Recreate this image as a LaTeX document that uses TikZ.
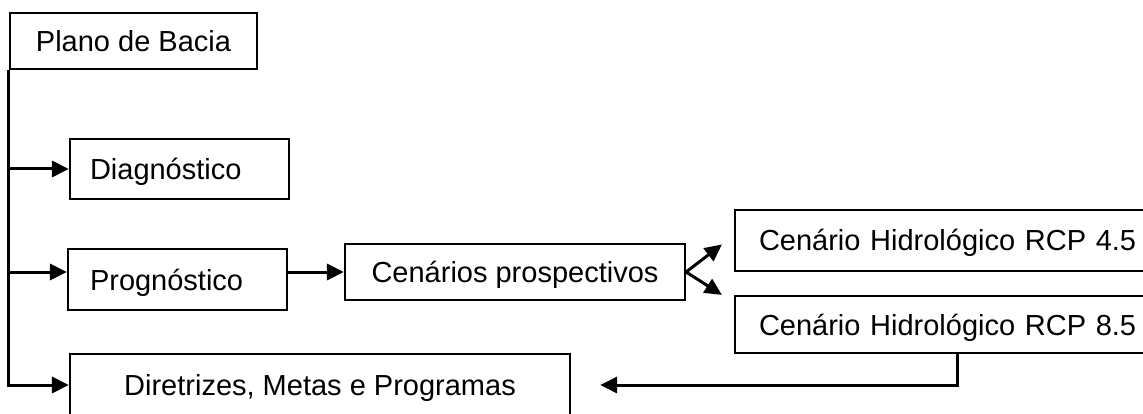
\documentclass[tikz,border=0pt]{standalone}
\usepackage{fontspec}
\setmainfont{Liberation Sans}
\usetikzlibrary{arrows.meta}
\tikzset{
  caixa/.style={draw, line width=2.2pt, inner sep=0pt,
    font=\fontsize{29}{34}\selectfont, text height=26pt, text depth=5pt},
  caixaesq/.style={caixa, align=left},
  seta/.style={line width=3pt, -{Triangle[length=17pt,width=16pt]}},
}

\begin{document}
\begin{tikzpicture}[x=1pt,y=-1pt]
  \useasboundingbox (0,0) rectangle (1143,414);
  \clip (0,0) rectangle (1143,414);

  \node[caixa, minimum width=247pt, minimum height=56pt] (plano) at (133.5,41) {Plano de Bacia};
  \node[caixaesq, text width=179pt, inner xsep=20pt, minimum height=60pt] (diag) at (179.5,169) {Diagnóstico};
  \node[caixaesq, text width=175pt, inner xsep=22pt, minimum height=61pt] (prog) at (177.5,279.5) {Prognóstico};
  \node[caixa, minimum width=340pt, minimum height=56pt] (cenarios) at (515,272) {Cenários prospectivos};
  \node[caixaesq, text width=392pt, inner xsep=24pt, minimum height=61pt] (rcpquatro) at (955,240.5) {Cenário Hidrológico RCP 4.5};
  \node[caixaesq, text width=392pt, inner xsep=24pt, minimum height=57pt] (rcpoito) at (955,324.5) {Cenário Hidrológico RCP 8.5};
  \node[caixa, minimum width=500pt, minimum height=62pt] (diretrizes) at (320,385) {Diretrizes, Metas e Programas};

  % tronco do plano
  \draw[seta] (plano.south west) |- (diag.west);
  \draw[seta] (plano.south west) |- (prog.west |- cenarios.west);
  \draw[seta] (plano.south west) |- (diretrizes.west);

  \draw[seta] (prog.east |- cenarios.west) -- (cenarios.west);
  \draw[seta] (cenarios.east) -- ([xshift=-12pt,yshift=-4pt]rcpquatro.west);
  \draw[seta] (cenarios.east) -- ([xshift=-12pt]rcpoito.north west);
  \draw[seta] ([xshift=224pt]rcpoito.south west) |- ([xshift=29pt]diretrizes.east);
\end{tikzpicture}
\end{document}
